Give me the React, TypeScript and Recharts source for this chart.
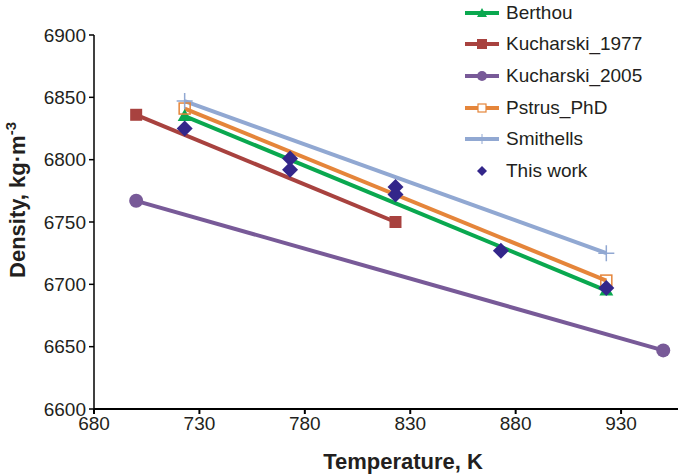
import { ComposedChart, Line, Scatter, XAxis, YAxis, Label } from 'recharts';

const BERTHOU_T = [723, 923];
const BERTHOU_RHO = [6835, 6695];
const KUCH1977_T = [700, 823];
const KUCH1977_RHO = [6836, 6750];
const KUCH2005_T = [700, 950];
const KUCH2005_RHO = [6767, 6647];
const PSTRUS_T = [723, 923];
const PSTRUS_RHO = [6841, 6703];
const SMITH_T = [723, 923];
const SMITH_RHO = [6847, 6725];
const THISWORK_T = [723, 773, 773, 823, 823, 873, 923];
const THISWORK_RHO = [6825, 6801, 6792, 6778, 6772, 6727, 6697];

const X_TICKS = [680, 730, 780, 830, 880, 930];
const Y_TICKS = [6600, 6650, 6700, 6750, 6800, 6850, 6900];

const C = {
  berthou: '#0aa84f',
  kuch1977: '#a8423f',
  kuch2005: '#785a98',
  pstrus: '#e5853a',
  smith: '#91a8d2',
  thisWork: '#33268a',
};

const FONT = '"Liberation Sans", Arial, sans-serif';

const zip = (t: number[], r: number[]) => t.map((x, i) => ({ t: x, rho: r[i] }));

type DotProps = { cx?: number; cy?: number; index?: number };

const Triangle = ({ cx = 0, cy = 0 }: DotProps) => (
  <path d={`M${cx},${cy - 7} L${cx + 7},${cy + 5} L${cx - 7},${cy + 5} Z`} fill={C.berthou} />
);
const FilledSquare = ({ cx = 0, cy = 0 }: DotProps) => (
  <rect x={cx - 6} y={cy - 6} width={12} height={12} fill={C.kuch1977} />
);
const Circle = ({ cx = 0, cy = 0 }: DotProps) => (
  <circle cx={cx} cy={cy} r={7} fill={C.kuch2005} />
);
const OpenSquare = ({ cx = 0, cy = 0 }: DotProps) => (
  <rect x={cx - 5.5} y={cy - 5.5} width={11} height={11} fill="none" stroke={C.pstrus} strokeWidth={1.5} />
);
const Plus = ({ cx = 0, cy = 0 }: DotProps) => (
  <path d={`M${cx - 8},${cy} H${cx + 8} M${cx},${cy - 8} V${cy + 8}`} stroke={C.smith} strokeWidth={1.5} fill="none" />
);
const Diamond = ({ cx = 0, cy = 0 }: DotProps) => (
  <path d={`M${cx},${cy - 8} L${cx + 8},${cy} L${cx},${cy + 8} L${cx - 8},${cy} Z`} fill={C.thisWork} />
);

const LEGEND_ITEMS = [
  { name: 'Berthou', color: C.berthou, marker: 'tri' },
  { name: 'Kucharski_1977', color: C.kuch1977, marker: 'sq' },
  { name: 'Kucharski_2005', color: C.kuch2005, marker: 'circ' },
  { name: 'Pstrus_PhD', color: C.pstrus, marker: 'osq' },
  { name: 'Smithells', color: C.smith, marker: 'plus' },
  { name: 'This work', color: C.thisWork, marker: 'dia' },
];

function LegendMarker({ marker, color }: { marker: string; color: string }) {
  const cx = 17;
  const cy = 9;
  const line = marker === 'dia' ? null : (
    <line x1={0} y1={cy} x2={34} y2={cy} stroke={color} strokeWidth={4} />
  );
  let m = null;
  if (marker === 'tri') m = <path d={`M${cx},${cy - 5} L${cx + 5},${cy + 4} L${cx - 5},${cy + 4} Z`} fill={color} />;
  if (marker === 'sq') m = <rect x={cx - 5} y={cy - 5} width={10} height={10} fill={color} />;
  if (marker === 'circ') m = <circle cx={cx} cy={cy} r={5} fill={color} />;
  if (marker === 'osq') m = <rect x={cx - 4} y={cy - 4} width={8} height={8} fill="#fff" stroke={color} strokeWidth={1.2} />;
  if (marker === 'plus') m = <path d={`M${cx},${cy - 5} V${cy + 5}`} stroke={color} strokeWidth={1} />;
  if (marker === 'dia') m = <path d={`M${cx},${cy - 5} L${cx + 5},${cy} L${cx},${cy + 5} L${cx - 5},${cy} Z`} fill={color} />;
  return (
    <svg width={34} height={18} style={{ display: 'block' }}>
      {line}
      {m}
    </svg>
  );
}

const tickStyle = { fontSize: 19, fill: '#231f20', fontFamily: FONT };

export default function App() {
  return (
    <div style={{ position: 'absolute', left: 0, top: 0, width: 678, height: 476, background: '#fff' }}>
      <ComposedChart
        width={678}
        height={476}
        margin={{ top: 35, right: 0, bottom: 0, left: 0 }}
      >
        <XAxis
          dataKey="t"
          type="number"
          domain={[680, 957]}
          ticks={X_TICKS}
          allowDataOverflow
          tick={tickStyle}
          tickSize={5}
          tickMargin={3}
          stroke="#000"
          strokeWidth={2}
          height={67}
        >
          <Label
            value="Temperature, K"
            position="insideBottom"
            offset={7}
            dx={17}
            style={{ fontSize: 22, fontWeight: 'bold', fill: '#231f20', fontFamily: FONT }}
          />
        </XAxis>
        <YAxis
          dataKey="rho"
          type="number"
          domain={[6600, 6900]}
          ticks={Y_TICKS}
          tick={tickStyle}
          tickSize={5}
          tickMargin={3}
          stroke="#000"
          strokeWidth={1.5}
          width={94}
        >
          <Label
            content={() => (
              <text
                x={0}
                y={0}
                transform="translate(25, 200) rotate(-90)"
                textAnchor="middle"
                style={{ fontSize: 22, fontWeight: 'bold', fill: '#231f20', fontFamily: FONT }}
              >
                Density, kg·m
                <tspan dy={-9} fontSize={15}>-3</tspan>
              </text>
            )}
          />
        </YAxis>
        <Line
          data={zip(BERTHOU_T, BERTHOU_RHO)}
          dataKey="rho"
          name="Berthou"
          stroke={C.berthou}
          strokeWidth={4}
          dot={(p: DotProps) => <Triangle key={`b${p.index}`} {...p} />}
          activeDot={false}
          isAnimationActive={false}
        />
        <Line
          data={zip(KUCH1977_T, KUCH1977_RHO)}
          dataKey="rho"
          name="Kucharski_1977"
          stroke={C.kuch1977}
          strokeWidth={4}
          dot={(p: DotProps) => <FilledSquare key={`k${p.index}`} {...p} />}
          activeDot={false}
          isAnimationActive={false}
        />
        <Line
          data={zip(KUCH2005_T, KUCH2005_RHO)}
          dataKey="rho"
          name="Kucharski_2005"
          stroke={C.kuch2005}
          strokeWidth={4}
          dot={(p: DotProps) => <Circle key={`c${p.index}`} {...p} />}
          activeDot={false}
          isAnimationActive={false}
        />
        <Line
          data={zip(PSTRUS_T, PSTRUS_RHO)}
          dataKey="rho"
          name="Pstrus_PhD"
          stroke={C.pstrus}
          strokeWidth={4}
          dot={(p: DotProps) => <OpenSquare key={`p${p.index}`} {...p} />}
          activeDot={false}
          isAnimationActive={false}
        />
        <Line
          data={zip(SMITH_T, SMITH_RHO)}
          dataKey="rho"
          name="Smithells"
          stroke={C.smith}
          strokeWidth={4}
          dot={(p: DotProps) => <Plus key={`s${p.index}`} {...p} />}
          activeDot={false}
          isAnimationActive={false}
        />
        <Scatter
          data={zip(THISWORK_T, THISWORK_RHO)}
          dataKey="rho"
          name="This work"
          fill={C.thisWork}
          shape={(p: DotProps) => <Diamond {...p} />}
          isAnimationActive={false}
        />
      </ComposedChart>
      <div
        style={{
          position: 'absolute',
          left: 465,
          top: -3,
          fontFamily: FONT,
          fontSize: 19,
          color: '#231f20',
        }}
      >
        {LEGEND_ITEMS.map((it) => (
          <div key={it.name} style={{ display: 'flex', alignItems: 'center', height: 31.6 }}>
            <LegendMarker marker={it.marker} color={it.color} />
            <span style={{ marginLeft: 7 }}>{it.name}</span>
          </div>
        ))}
      </div>
    </div>
  );
}
